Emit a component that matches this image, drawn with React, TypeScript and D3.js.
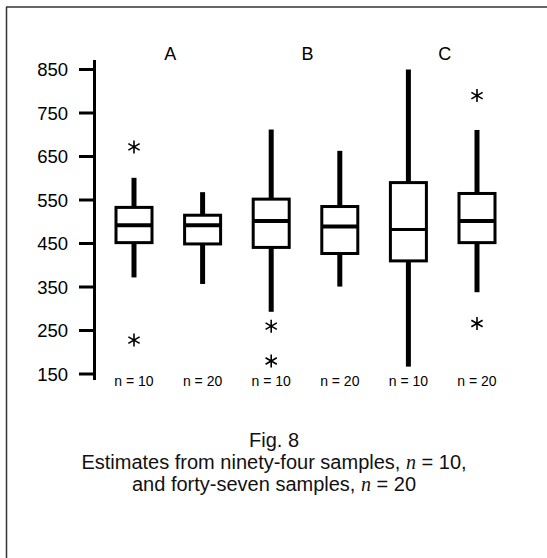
import React from 'react'
import * as d3 from 'd3'

const groups = ['A', 'B', 'C']
const sampleLabels = ['n = 10', 'n = 20', 'n = 10', 'n = 20', 'n = 10', 'n = 20']
const boxKeys = ['A10', 'A20', 'B10', 'B20', 'C10', 'C20']
const whiskerLow = [372, 357, 293, 351, 167, 338]
const q1 = [452, 449, 441, 427, 410, 452]
const median = [492, 492, 502, 489, 482, 502]
const q3 = [533, 515, 552, 535, 590, 565]
const whiskerHigh = [601, 568, 712, 663, 850, 711]
const outliers = [[672, 228], [], [260, 180], [], [], [790, 266]]
const yTicks = [150, 250, 350, 450, 550, 650, 750, 850]

const W = 547
const H = 558
const font = '"Liberation Sans", Arial, Helvetica, sans-serif'

function Asterisk({ x, y }: { x: number; y: number }) {
    const r = 6.5
    const t = r / 2
    const u = t * Math.sqrt(3)
    const p = d3.path()
    p.moveTo(0, -r)
    p.lineTo(0, r)
    p.moveTo(-u, -t)
    p.lineTo(u, t)
    p.moveTo(-u, t)
    p.lineTo(u, -t)
    return <path transform={`translate(${x},${y})`} d={p.toString()} stroke="#000" strokeWidth={1.6} fill="none" />
}

export default function App() {
    // y scale
    const y = d3.scaleLinear().domain([150, 850]).range([374, 69.5])
    // x positions of boxes
    const x = d3.scalePoint().domain(boxKeys).range([134, 477])
    const boxW = 36
    const axisX = 94.5

    return (
        <svg width={W} height={H} style={{ position: 'absolute', left: 0, top: 0, background: '#fff' }} fontFamily={font}>
            {/* frame */}
            <line x1={6} x2={W} y1={7} y2={7} stroke="#333" strokeWidth={1.5} />
            <line x1={6.5} x2={6.5} y1={7} y2={H} stroke="#333" strokeWidth={1.5} />

            {/* y axis */}
            <line x1={axisX} x2={axisX} y1={60} y2={380} stroke="#000" strokeWidth={3} />
            {yTicks.map((t) => (
                <g key={t}>
                    <line x1={79} x2={axisX} y1={y(t)} y2={y(t)} stroke="#000" strokeWidth={3} />
                    <text x={68} y={y(t)} dy="0.36em" textAnchor="end" fontSize={18.5}>
                        {t}
                    </text>
                </g>
            ))}

            {/* group labels */}
            {groups.map((g, i) => {
                const cx = ((x(boxKeys[i * 2]) as number) + (x(boxKeys[i * 2 + 1]) as number)) / 2
                return (
                    <text key={g} x={cx + 2} y={60} textAnchor="middle" fontSize={18}>
                        {g}
                    </text>
                )
            })}

            {/* boxes */}
            {boxKeys.map((k, i) => {
                const cx = x(k) as number
                return (
                    <g key={k}>
                        <line x1={cx} x2={cx} y1={y(whiskerHigh[i])} y2={y(q3[i])} stroke="#000" strokeWidth={5} />
                        <line x1={cx} x2={cx} y1={y(q1[i])} y2={y(whiskerLow[i])} stroke="#000" strokeWidth={5} />
                        <rect
                            x={cx - boxW / 2}
                            y={y(q3[i])}
                            width={boxW}
                            height={y(q1[i]) - y(q3[i])}
                            fill="#fff"
                            stroke="#000"
                            strokeWidth={3}
                        />
                        <line
                            x1={cx - boxW / 2}
                            x2={cx + boxW / 2}
                            y1={y(median[i])}
                            y2={y(median[i])}
                            stroke="#000"
                            strokeWidth={i === 4 ? 3 : 4}
                        />
                        {outliers[i].map((o, j) => (
                            <Asterisk key={j} x={cx} y={y(o)} />
                        ))}
                        <text x={cx} y={386} textAnchor="middle" fontSize={14}>
                            {sampleLabels[i]}
                        </text>
                    </g>
                )
            })}

            {/* caption */}
            <g fontSize={20} fill="#111" textAnchor="middle">
                <text x={274} y={447}>Fig. 8</text>
                <text x={274} y={469}>
                    Estimates from ninety-four samples, <tspan fontFamily="'Liberation Serif', serif" fontStyle="italic">n</tspan> = 10,
                </text>
                <text x={274} y={491}>
                    and forty-seven samples, <tspan fontFamily="'Liberation Serif', serif" fontStyle="italic">n</tspan> = 20
                </text>
            </g>
        </svg>
    )
}
